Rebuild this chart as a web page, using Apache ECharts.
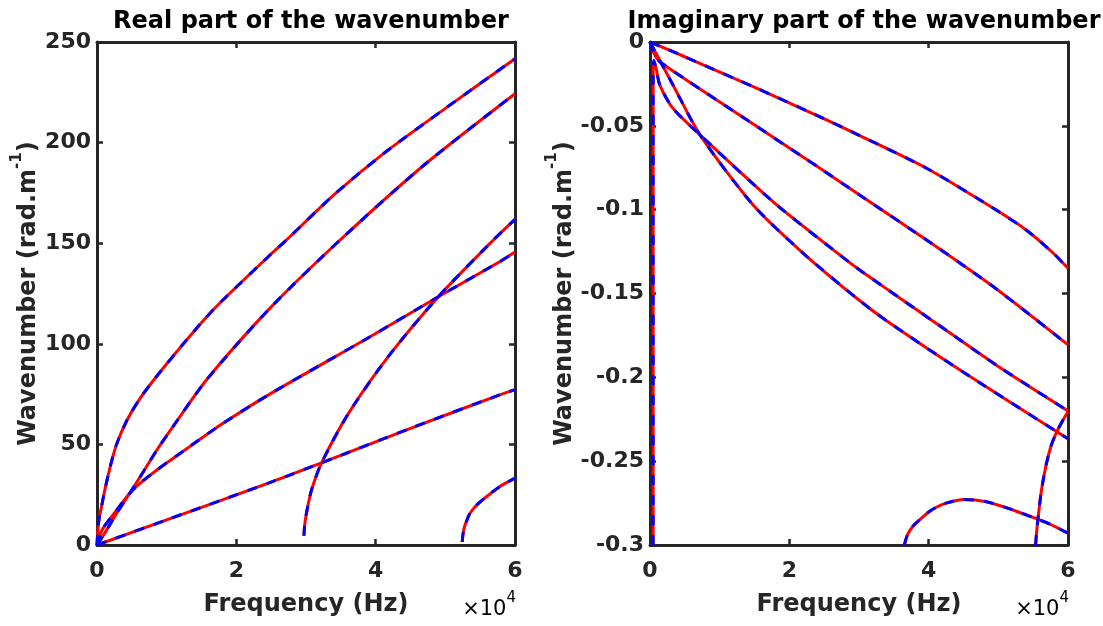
<!DOCTYPE html>
<html>
<head>
<meta charset="utf-8">
<script src="https://cdn.jsdelivr.net/npm/echarts@6/dist/echarts.min.js"></script>
<style>
html,body{margin:0;padding:0;background:#fff;}
#chart{width:1103px;height:626px;}
</style>
</head>
<body>
<div id="chart"></div>
<script>
// ---------------- DATA ----------------
// Axis ticks
const xTicksHz = [0, 20000, 40000, 60000];
const reTicks = [0, 50, 100, 150, 200, 250];
const imTicks = [-0.3, -0.25, -0.2, -0.15, -0.1, -0.05, 0];

// Left panel: real part of the wavenumber (frequency in Hz, rad/m)
const reA_f = [0, 100, 300, 700, 1100, 1900, 2800, 4300, 6200, 8600, 12400, 15500, 18000, 24800, 27200, 34000, 41300, 50000, 60000];
const reA_k = [0, 6, 13, 20, 27, 39, 50, 62, 73, 84, 100, 112.5, 121.5, 144, 151.6, 174, 195, 217, 241.7];

const reB_f = [0, 1400, 2800, 4700, 6200, 8600, 10900, 15700, 24800, 34900, 47000, 60000];
const reB_k = [0, 7.5, 15.7, 25.7, 33.9, 47.2, 58.8, 82, 117.6, 151.6, 189, 224.3];

const reC_f = [0, 400, 1000, 2300, 4700, 6200, 8600, 13300, 18100, 24800, 39200, 49000, 57800, 60000];
const reC_k = [0, 5, 9, 15, 25.7, 30.7, 37.3, 48.9, 60.5, 75, 103.5, 123.4, 140.8, 145.6];

const reD_f = [0, 10000, 24800, 32200, 45000, 57800, 60000];
const reD_k = [0, 12.5, 31, 40.8, 58, 74.6, 77.2];

const reE_f = [29700, 29800, 30000, 30300, 30800, 32200, 36100, 41800, 49000, 56900, 60000];
const reE_k = [4.6, 9.5, 14.5, 20, 27.5, 40.6, 65.4, 93.6, 123.4, 151.6, 161.8];

const reF_f = [52430, 52500, 52700, 53000, 53500, 54500, 55900, 57800, 60000];
const reF_k = [1.5, 4.5, 8.5, 11.5, 15.5, 19.8, 24, 29, 33.2];

// Right panel: imaginary part of the wavenumber (frequency in Hz, rad/m)
const imR1_f = [0, 5000, 15700, 24400, 30100, 39700, 49300, 54000, 57900, 60000];
const imR1_k = [0, -0.0088, -0.0283, -0.0446, -0.0558, -0.0753, -0.0992, -0.1121, -0.126, -0.135];

const imR2_f = [0, 400, 800, 1400, 5000, 24400, 30100, 39700, 49300, 60000];
const imR2_k = [0, -0.005, -0.0085, -0.0118, -0.022, -0.0753, -0.0913, -0.1181, -0.146, -0.1806];

const imR3_f = [0, 3300, 7200, 14800, 22000, 29900, 34000, 45000, 60000];
const imR3_k = [0, -0.0256, -0.0555, -0.0972, -0.126, -0.1536, -0.1664, -0.197, -0.2366];

const imR4_f = [450, 450, 450, 550, 900, 1400, 3300, 7200, 18200, 27000, 30100, 34400, 40600, 50000, 60000];
const imR4_k = [-0.3, -0.1, -0.02, -0.011, -0.016, -0.0256, -0.0396, -0.0555, -0.0972, -0.1262, -0.136, -0.1485, -0.1664, -0.1935, -0.22];

const imH_f = [55350, 55500, 55700, 56200, 56900, 57600, 58400, 59200, 60000];
const imH_k = [-0.3, -0.292, -0.284, -0.267, -0.2515, -0.2405, -0.2324, -0.226, -0.2205];

const imBump_f = [36500, 37000, 37800, 38700, 40000, 41100, 42500, 45000, 48300, 52100, 55700, 57400, 60000];
const imBump_k = [-0.3, -0.2935, -0.2885, -0.285, -0.2803, -0.2775, -0.275, -0.2728, -0.2742, -0.2791, -0.2847, -0.2875, -0.293];

const leftCurves = [[reA_f, reA_k], [reB_f, reB_k], [reC_f, reC_k], [reD_f, reD_k], [reE_f, reE_k], [reF_f, reF_k]];
const rightCurves = [[imR1_f, imR1_k], [imR2_f, imR2_k], [imR3_f, imR3_k], [imR4_f, imR4_k], [imH_f, imH_k], [imBump_f, imBump_k]];

// ---------------- STYLE ----------------
const FONT = 'DejaVu Sans';
const AX = '#262626';
const G = [
  {left: 97, top: 42, width: 418, height: 503},
  {left: 650, top: 42, width: 418, height: 503}
];

function pairs(f, k) { return f.map((x, i) => [x, k[i]]); }

function xAx(gi, pos, showName) {
  return {
    type: 'value', gridIndex: gi, position: pos,
    min: xTicksHz[0], max: xTicksHz[xTicksHz.length - 1], interval: xTicksHz[1] - xTicksHz[0],
    axisLine: {show: true, onZero: false, lineStyle: {color: AX, width: 3}},
    axisTick: {show: true, inside: true, length: 6, lineStyle: {color: AX, width: 2.5}},
    axisLabel: {show: showName, margin: 15, color: AX, fontFamily: FONT, fontWeight: 'bold', fontSize: 22,
      formatter: v => String(v / 10000)},
    splitLine: {show: false},
    name: showName ? 'Frequency (Hz)' : '',
    nameLocation: 'middle', nameGap: 48,
    nameTextStyle: {color: AX, fontFamily: FONT, fontWeight: 'bold', fontSize: 24}
  };
}
function yAx(gi, pos, ticks, showName, gap, fmt) {
  return {
    type: 'value', gridIndex: gi, position: pos,
    min: ticks[0], max: ticks[ticks.length - 1], interval: ticks[1] - ticks[0],
    axisLine: {show: true, onZero: false, lineStyle: {color: AX, width: 3}},
    axisTick: {show: true, inside: true, length: 6, lineStyle: {color: AX, width: 2.5}},
    axisLabel: {show: showName, margin: 6, color: AX, fontFamily: FONT, fontWeight: 'bold', fontSize: 22, formatter: fmt},
    splitLine: {show: false},
    name: showName ? '{m|Wavenumber (rad.m}{s|-1}{m|)}' : '',
    nameLocation: 'middle', nameGap: gap, nameRotate: 90,
    nameTextStyle: {
      color: AX, fontFamily: FONT, fontWeight: 'bold', fontSize: 24,
      rich: {
        m: {color: AX, fontFamily: FONT, fontWeight: 'bold', fontSize: 24, lineHeight: 32, verticalAlign: 'bottom'},
        s: {color: AX, fontFamily: FONT, fontWeight: 'bold', fontSize: 15, lineHeight: 15, verticalAlign: 'top'}
      }
    }
  };
}

const series = [];
function addCurves(curves, xi, yi) {
  curves.forEach(c => {
    series.push({type: 'line', xAxisIndex: xi, yAxisIndex: yi, data: pairs(c[0], c[1]),
      showSymbol: false, smooth: 0.25, clip: true, z: 2,
      lineStyle: {color: '#ff0000', width: 3}});
  });
  curves.forEach(c => {
    series.push({type: 'line', xAxisIndex: xi, yAxisIndex: yi, data: pairs(c[0], c[1]),
      showSymbol: false, smooth: 0.25, clip: true, z: 3,
      lineStyle: {color: '#0000ff', width: 3, type: [10, 10]}});
  });
}
addCurves(leftCurves, 0, 0);
addCurves(rightCurves, 2, 2);

const imFmt = v => { const s = (+Number(v).toFixed(2)); return s === 0 ? '0' : String(s); };

const option = {
  animation: false,
  backgroundColor: '#ffffff',
  title: [
    {text: 'Real part of the wavenumber', left: 306, top: 5, textAlign: 'center',
      textStyle: {color: '#000', fontFamily: FONT, fontWeight: 'bold', fontSize: 24}},
    {text: 'Imaginary part of the wavenumber', left: 859, top: 5, textAlign: 'center',
      textStyle: {color: '#000', fontFamily: FONT, fontWeight: 'bold', fontSize: 24}}
  ],
  grid: G,
  xAxis: [xAx(0, 'bottom', true), xAx(0, 'top', false), xAx(1, 'bottom', true), xAx(1, 'top', false)],
  yAxis: [
    yAx(0, 'left', reTicks, true, 54, v => String(v)),
    yAx(0, 'right', reTicks, false, 0, v => String(v)),
    yAx(1, 'left', imTicks, true, 64, imFmt),
    yAx(1, 'right', imTicks, false, 0, imFmt)
  ],
  graphic: [
    {type: 'text', x: 516, y: 620, style: {text: '{a|×10}{b|4}', align: 'right', verticalAlign: 'bottom',
      rich: {a: {fontFamily: FONT, fontSize: 21, color: AX, lineHeight: 29, verticalAlign: 'bottom'},
             b: {fontFamily: FONT, fontSize: 15, color: AX, lineHeight: 15, verticalAlign: 'top'}}}},
    {type: 'text', x: 1069, y: 620, style: {text: '{a|×10}{b|4}', align: 'right', verticalAlign: 'bottom',
      rich: {a: {fontFamily: FONT, fontSize: 21, color: AX, lineHeight: 29, verticalAlign: 'bottom'},
             b: {fontFamily: FONT, fontSize: 15, color: AX, lineHeight: 15, verticalAlign: 'top'}}}}
  ],
  series: series
};

const chart = echarts.init(document.getElementById('chart'), null, {renderer: 'canvas'});
chart.setOption(option);
</script>
</body>
</html>
